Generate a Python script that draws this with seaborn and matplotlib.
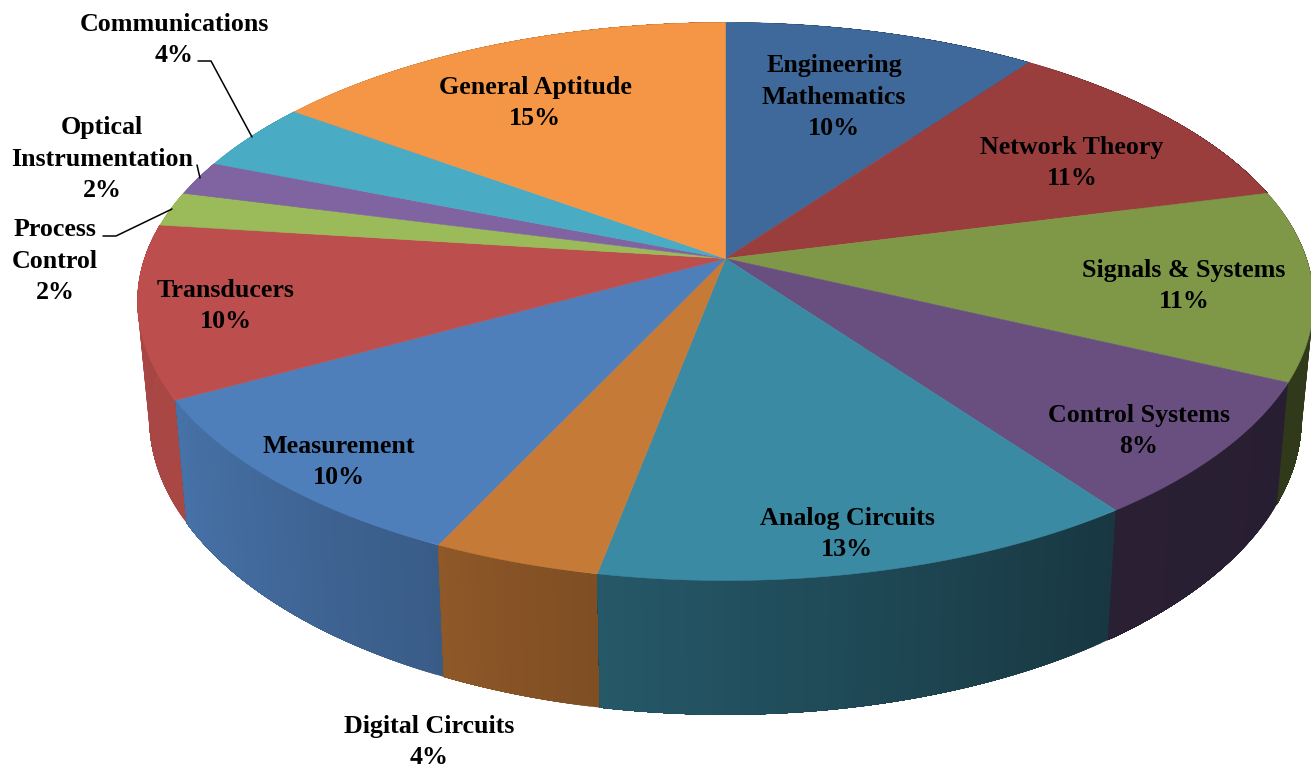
import numpy as np
import matplotlib
matplotlib.use("Agg")
import matplotlib.pyplot as plt
import seaborn as sns

# Topic weightage, clockwise from twelve o'clock
topics = ["Engineering\nMathematics", "Network Theory", "Signals & Systems", "Control Systems",
          "Analog Circuits", "Digital Circuits", "Measurement", "Transducers",
          "Process\nControl", "Optical\nInstrumentation", "Communications", "General Aptitude"]
shares = [10, 11, 11, 8, 13, 4, 10, 10, 2, 2, 4, 15]
face_colors = ["#3F699B", "#9A3E3D", "#7F9848", "#694F80", "#3B8AA3", "#C67A37",
               "#4F7FBB", "#BC4F4D", "#9BBA59", "#8064A1", "#4AABC5", "#F59646"]

# Label anchor of each slice, in the same order (canvas pixels)
label_xy = [(834, 97), (1072, 163), (1184, 286), (1139, 431), (847, 534), (429, 742),
            (339, 462), (226, 306), (55, 261), (102, 159), (174, 40), (535, 103)]

# Leader lines for the labels sitting outside the disc
leaders = [[(198, 61), (211, 61), (252, 137)],
           [(197, 165), (200, 178)],
           [(103, 236), (116, 236), (172, 209)]]

# Perspective of the disc
CX, CY = 725.5, 258.5
AX, BY = 581.0, 272.4
TILT = 0.154
FLOOR_X, FLOOR_Y, FLOOR_DROP = 0.98, 1.063, 114.0


def top_rim(theta):
    """Project clockwise angles (degrees from the top) onto the upper face."""
    t = np.radians(theta)
    u, v = np.sin(t), -np.cos(t)
    w = 1 - TILT * v
    return CX + AX * u / w, CY + BY * v / w


def floor_rim(theta):
    """Same angles projected onto the lower edge of the cylinder wall."""
    x, y = top_rim(theta)
    return CX + FLOOR_X * (x - CX), CY + FLOOR_DROP + FLOOR_Y * (y - CY)


def wall_shade(theta):
    """Light falls from the left, so the wall darkens towards the right."""
    return np.interp(theta, [0, 115, 144, 191, 205, 241, 277, 360],
                     [0.38, 0.38, 0.40, 0.64, 0.72, 0.90, 0.88, 0.6])


sns.set_theme(style="white")
plt.rcParams["font.family"] = ["Liberation Serif", "DejaVu Serif"]
palette = sns.color_palette(face_colors)

fig = plt.figure(figsize=(13.11, 7.69), dpi=100, facecolor="white")
ax = fig.add_axes([0, 0, 1, 1])
ax.set_xlim(0, 1311)
ax.set_ylim(769, 0)
ax.axis("off")

edges = np.concatenate([[0], np.cumsum(shares)]) * 360.0 / sum(shares)

# Outer wall: each slice is painted as overlapping strips, rearmost slices first
mid_depth = [-np.cos(np.radians((edges[i] + edges[i + 1]) / 2)) for i in range(len(shares))]
for i in np.argsort(mid_depth):
    n_strips = max(2, int((edges[i + 1] - edges[i]) / 0.75))
    steps = np.linspace(edges[i], edges[i + 1], n_strips + 1)
    # Each strip runs on to the slice's far end and is overdrawn by the next one
    for a0, a1 in zip(steps[:-1], steps[1:]):
        arc = np.linspace(a0, edges[i + 1], 2 + int(edges[i + 1] - a0))
        xt, yt = top_rim(arc)
        xb, yb = floor_rim(arc[::-1])
        shade = np.array(palette[i]) * wall_shade((a0 + a1) / 2)
        ax.fill(np.r_[xt, xb], np.r_[yt, yb], color=tuple(shade), lw=0, zorder=1)

# Upper face
for i, color in enumerate(palette):
    arc = np.linspace(edges[i], edges[i + 1], 80)
    x, y = top_rim(arc)
    ax.fill(np.r_[CX, x], np.r_[CY, y], color=color, lw=0.4, zorder=2)

for (x, y), name, share in zip(label_xy, topics, shares):
    ax.text(x, y, f"{name}\n{share}%", ha="center", va="center", ma="center",
            fontsize=18.7, fontweight="bold", color="black", linespacing=1.48, zorder=4)

for path in leaders:
    xs, ys = zip(*path)
    ax.plot(xs, ys, color="black", lw=1.1, zorder=3)

fig.savefig("out.png", dpi=100, facecolor="white")
